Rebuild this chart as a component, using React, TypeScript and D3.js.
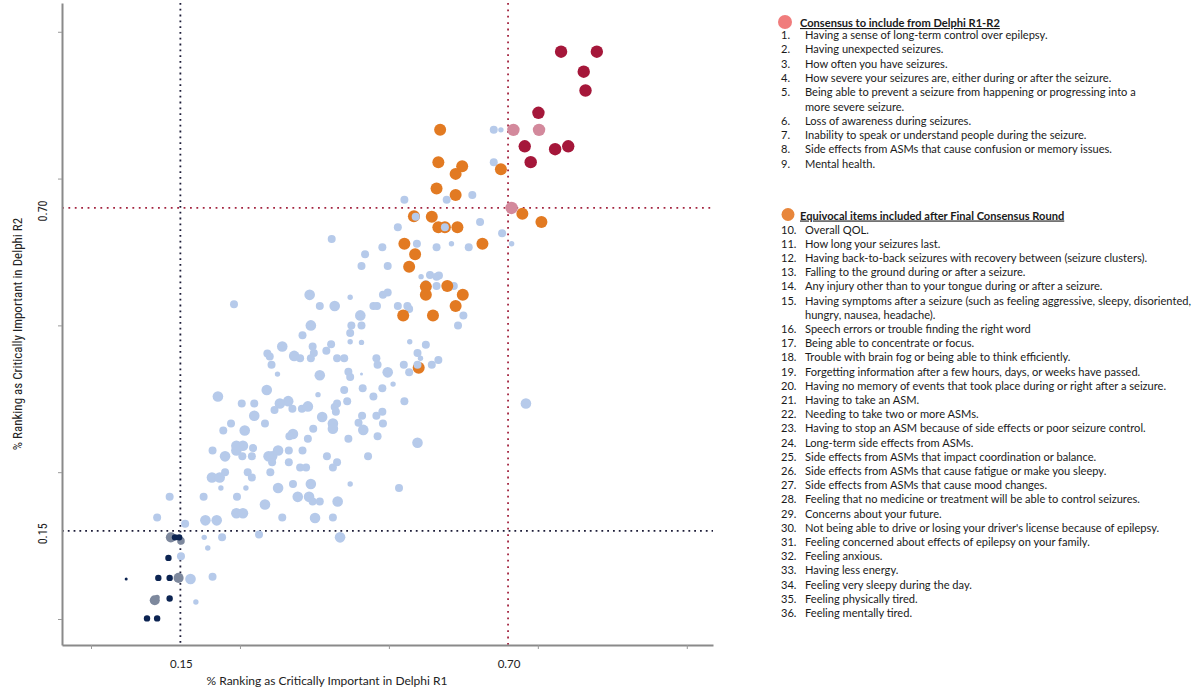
import React, { useEffect, useRef } from "react";
import * as d3 from "d3";

// % ranking as critically important: [R1, R2, sizeCode]
const otherItems: number[][] = [
  [67.6,83.3,2],[68.8,83.3,1],[67.6,77.8,2],[52.6,71.4,2],[59.7,71.4,2],[64.0,72.2,2],[65.3,67.6,2],[69.0,65.7,2],[70.6,63.9,1],[51.5,66.7,2],[54.7,63.9,2],[58.0,63.3,2],[60.5,63.9,1],[63.4,63.3,2],[48.9,63.3,2],[46.0,62.1,2],[40.4,64.7,2],[45.4,60.1,2],[49.8,60.1,2],[55.4,58.3,1],[56.9,58.6,2],[58.0,58.3,2],[58.4,58.5,2],[56.2,57.0,2],[58.0,56.7,2],[60.9,56.7,2],[43.5,54.8,1],[49.0,55.2,2],[49.8,55.6,2],[36.7,55.2,3],[24.0,53.6,2],[38.4,53.3,2],[40.9,53.3,3],[47.4,53.3,2],[48.0,53.3,2],[51.5,53.3,2],[53.1,53.3,2],[53.4,52.8,2],[62.5,51.7,2],[61.6,50.0,2],[45.2,51.7,3],[36.9,50.0,3],[43.7,50.0,2],[45.4,50.0,2],[35.5,48.3,2],[43.5,48.7,2],[43.5,47.2,1],[45.4,47.1,1],[53.5,47.2,1],[56.2,46.7,2],[40.3,46.8,2],[37.2,46.4,2],[37.4,45.3,2],[39.5,45.7,2],[32.1,46.4,3],[29.6,45.2,2],[30.0,44.7,2],[34.1,44.8,3],[35.1,44.4,2],[36.9,44.4,2],[41.3,44.4,2],[42.5,44.4,2],[47.9,44.4,2],[48.1,43.3,2],[54.8,45.3,2],[55.3,44.4,1],[52.5,43.3,2],[53.4,42.0,2],[57.2,43.3,2],[58.3,44.1,2],[49.8,42.0,3],[43.2,42.1,2],[43.5,41.2,2],[45.4,41.7,0],[38.4,41.5,3],[30.3,43.3,2],[31.3,41.7,1],[50.7,40.0,1],[48.9,39.3,2],[45.6,39.3,2],[42.5,39.0,2],[47.4,37.9,2],[38.1,38.2,1],[29.5,39.0,3],[21.3,37.9,3],[43.0,37.1,2],[41.3,36.7,2],[40.9,36.1,2],[41.1,35.3,2],[33.1,37.1,3],[31.7,36.7,3],[33.8,35.8,2],[35.4,35.8,2],[36.4,36.2,3],[52.6,37.1,2],[30.8,35.6,2],[25.3,36.7,2],[27.4,36.7,2],[38.8,34.4,3],[45.5,34.6,2],[47.9,34.6,2],[48.9,35.3,2],[44.9,33.4,2],[45.7,32.2,3],[40.6,33.3,3],[40.6,32.4,3],[49.0,33.3,2],[37.3,32.4,2],[73.0,36.7,3],[33.9,31.5,3],[33.3,31.1,2],[36.4,30.7,2],[43.2,30.7,2],[48.1,31.1,2],[54.8,30.0,3],[27.4,34.6,3],[23.5,33.3,2],[29.2,33.3,2],[22.2,32.1,2],[25.8,32.1,3],[24.4,29.5,3],[25.5,29.5,3],[24.4,28.7,3],[27.2,29.1,2],[20.4,28.7,2],[31.4,28.7,3],[33.2,28.7,2],[35.5,28.7,2],[22.5,27.7,3],[25.4,27.7,2],[27.0,27.7,2],[29.8,27.7,3],[30.4,27.7,3],[30.4,26.7,2],[33.2,26.7,2],[39.6,27.7,2],[46.5,27.7,2],[41.3,26.7,2],[40.6,25.8,2],[35.1,25.8,2],[36.1,25.8,2],[20.3,24.1,3],[21.6,24.1,3],[22.5,25.0,2],[26.3,25.0,2],[27.0,24.1,2],[30.1,25.0,2],[21.8,22.3,1],[26.0,22.3,1],[31.4,22.3,3],[33.9,23.0,2],[36.9,23.0,3],[43.5,23.0,1],[51.7,22.3,2],[13.2,20.8,2],[18.9,20.8,2],[24.5,20.8,2],[34.7,20.8,3],[36.6,20.8,3],[37.2,20.0,2],[38.4,20.0,2],[41.4,20.0,3],[29.2,19.5,3],[11.1,17.3,2],[19.2,16.8,3],[21.1,16.8,3],[24.4,18.0,3],[25.5,18.0,3],[32.1,17.3,2],[37.6,17.2,3],[40.6,17.3,2],[15.8,16.2,2],[28.2,14.4,2],[19.0,13.9,1],[22.0,13.9,2],[41.8,13.9,3],[19.6,12.1,1],[15.1,10.7,2],[16.7,6.8,3],[20.4,7.2,2],[17.6,2.9,1]
];
const otherOnTop: number[][] = [[54.5,68.5,2],[59.4,66.7,2],[54.8,43.3,2]];
const equivocalItems: number[][] = [
  [58.6,83.3],[58.3,77.8],[62.3,77.1],[61.2,75.8],[68.8,76.6],[58.0,73.3],[61.2,72.2],[72.4,69.0],[75.6,67.6],[54.2,68.6],[57.2,68.5],[58.3,66.7],[59.4,66.7],[61.5,66.7],[52.6,63.9],[65.7,63.9],[54.4,62.1],[53.4,60.0],[56.2,56.6],[59.8,56.7],[56.2,55.2],[62.4,55.2],[52.4,51.7],[57.4,51.7],[61.2,53.3],[55.0,42.8]
];
const consensusItems: number[][] = [
  [78.9,96.6],[84.9,96.6],[82.7,93.2],[83.0,90.0],[75.1,86.2],[72.8,80.5],[77.9,80.0],[80.1,80.5],[73.8,77.8]
];
const consensusOverlap: number[][] = [[70.9,83.3],[75.2,83.3],[70.6,70.0]];
const excludedItems: number[][] = [
  [14.1,13.9,2],[14.8,13.9,2],[13.0,10.4,2],[5.9,6.8,0],[11.3,7.0,2],[13.2,7.0,2],[13.2,3.5,2],[9.4,0.1,2],[11.1,0.1,2]
];
const excludedOverlap: number[][] = [[13.4,13.9,3],[15.1,13.3,2],[14.7,7.0,3],[10.7,3.2,3],[11.1,3.7,1]];

const gridTicks = [0, 25, 50, 75, 100];
const thresholds = [15, 70];
const thresholdLabels = ["0.15", "0.70"];

const legend1Title = "Consensus to include from Delphi R1-R2";
const legend1Items = [
  "Having a sense of long-term control over epilepsy.",
  "Having unexpected seizures.",
  "How often you have seizures.",
  "How severe your seizures are, either during or after the seizure.",
  "Being able to prevent a seizure from happening or progressing into a\nmore severe seizure.",
  "Loss of awareness during seizures.",
  "Inability to speak or understand people during the seizure.",
  "Side effects from ASMs that cause confusion or memory issues.",
  "Mental health.",
];
const legend2Title = "Equivocal items included after Final Consensus Round";
const legend2Items = [
  "Overall QOL.",
  "How long your seizures last.",
  "Having back-to-back seizures with recovery between (seizure clusters).",
  "Falling to the ground during or after a seizure.",
  "Any injury other than to your tongue during or after a seizure.",
  "Having symptoms after a seizure (such as feeling aggressive, sleepy, disoriented,\nhungry, nausea, headache).",
  "Speech errors or trouble finding the right word",
  "Being able to concentrate or focus.",
  "Trouble with brain fog or being able to think efficiently.",
  "Forgetting information after a few hours, days, or weeks have passed.",
  "Having no memory of events that took place during or right after a seizure.",
  "Having to take an ASM.",
  "Needing to take two or more ASMs.",
  "Having to stop an ASM because of side effects or poor seizure control.",
  "Long-term side effects from ASMs.",
  "Side effects from ASMs that impact coordination or balance.",
  "Side effects from ASMs that cause fatigue or make you sleepy.",
  "Side effects from ASMs that cause mood changes.",
  "Feeling that no medicine or treatment will be able to control seizures.",
  "Concerns about your future.",
  "Not being able to drive or losing your driver's license because of epilepsy.",
  "Feeling concerned about effects of epilepsy on your family.",
  "Feeling anxious.",
  "Having less energy.",
  "Feeling very sleepy during the day.",
  "Feeling physically tired.",
  "Feeling mentally tired.",
];

const LEGEND_FONT = "Lato, 'Open Sans', sans-serif";
const NARROW_FONT = "'Liberation Sans Narrow', 'Roboto Condensed', 'DejaVu Sans Condensed', sans-serif";

export default function App() {
  const ref = useRef<SVGSVGElement>(null);
  useEffect(() => {
    const svg = d3.select(ref.current!);
    svg.selectAll("*").remove();

    const x = d3.scaleLinear().domain([-4.87, 104.4]).range([62, 713]);
    const y = d3.scaleLinear().domain([-4.43, 104.9]).range([645, 3]);
    const r = d3.scaleOrdinal<number, number>().domain([0, 1, 2, 3]).range([1.5, 2.7, 4.0, 5.3]);

    const plot = svg.append("g");

    // threshold lines
    const black = "#1c1c38";
    const red = "#a3243f";
    const [t15, t70] = thresholds;
    plot.append("line").attr("x1", x(t15)).attr("x2", x(t15)).attr("y1", y.range()[1]).attr("y2", y.range()[0])
      .attr("stroke", black).attr("stroke-width", 1.8).attr("stroke-dasharray", "1.8 4");
    plot.append("line").attr("x1", x.range()[0]).attr("x2", x.range()[1]).attr("y1", y(t15)).attr("y2", y(t15))
      .attr("stroke", black).attr("stroke-width", 1.8).attr("stroke-dasharray", "1.8 4");
    plot.append("line").attr("x1", x(t70)).attr("x2", x(t70)).attr("y1", y.range()[1]).attr("y2", y.range()[0])
      .attr("stroke", red).attr("stroke-width", 1.8).attr("stroke-dasharray", "1.8 4.6");
    plot.append("line").attr("x1", x.range()[0]).attr("x2", x.range()[1]).attr("y1", y(t70)).attr("y2", y(t70))
      .attr("stroke", red).attr("stroke-width", 1.8).attr("stroke-dasharray", "1.8 4.6");

    const drawDots = (data: number[][], fill: string, radius: (d: number[]) => number, opacity = 1) => {
      plot.append("g").selectAll("circle").data(data).join("circle")
        .attr("cx", d => x(d[0])).attr("cy", d => y(d[1])).attr("r", radius)
        .attr("fill", fill).attr("fill-opacity", opacity);
    };

    drawDots(otherItems, "#b6caea", d => r(d[2]));
    drawDots(excludedOverlap, "#7d889d", d => r(d[2]) * 0.95);
    drawDots(excludedItems, "#0c2452", d => (d[2] === 0 ? 1.5 : 3.2));
    drawDots(equivocalItems, "#e27a22", () => 6);
    drawDots(otherOnTop, "#b6caea", () => 4);
    drawDots(consensusItems, "#a5173a", () => 6.2);
    drawDots(consensusOverlap, "#d3899c", () => 6.2);

    // axes
    const axisColor = "#8a8a8a";
    const xAxis = svg.append("g").attr("transform", `translate(0,${y.range()[0]})`)
      .call(d3.axisBottom(x).tickValues(gridTicks).tickFormat(() => "").tickSizeInner(4).tickSizeOuter(0));
    xAxis.select(".domain").attr("stroke", axisColor).attr("stroke-width", 2);
    xAxis.selectAll(".tick line").attr("stroke", "#9a9a9a");
    const yAxis = svg.append("g").attr("transform", `translate(${x.range()[0]},0)`)
      .call(d3.axisLeft(y).tickValues(gridTicks).tickFormat(() => "").tickSizeInner(4).tickSizeOuter(0));
    yAxis.select(".domain").attr("stroke", axisColor).attr("stroke-width", 2);
    yAxis.selectAll(".tick line").attr("stroke", "#9a9a9a");

    // threshold labels
    thresholds.forEach((t, i) => {
      svg.append("text").attr("x", x(t) + 1).attr("y", 668).attr("text-anchor", "middle")
        .attr("font-family", LEGEND_FONT).attr("font-size", 11.5).attr("fill", "#222").text(thresholdLabels[i]);
      svg.append("text").attr("transform", `translate(47,${y(t) + 3}) rotate(-90)`).attr("text-anchor", "middle")
        .attr("font-family", NARROW_FONT).attr("font-size", 12).attr("fill", "#222").text(thresholdLabels[i]);
    });

    svg.append("text").attr("x", 327).attr("y", 685).attr("text-anchor", "middle")
      .attr("font-family", LEGEND_FONT).attr("font-size", 12).attr("fill", "#222")
      .text("% Ranking as Critically Important in Delphi R1");
    svg.append("text").attr("transform", `translate(22,334) rotate(-90)`).attr("text-anchor", "middle")
      .attr("font-family", NARROW_FONT).attr("font-size", 13).attr("fill", "#222")
      .text("% Ranking as Critically Important in Delphi R2");

    // legends
    const drawLegend = (title: string, items: string[], startNum: number, titleY: number, firstY: number, step: number, color: string, cx: number, cr: number) => {
      const g = svg.append("g").attr("font-family", LEGEND_FONT).attr("font-size", 11.1).attr("fill", "#1a1a1a");
      g.append("circle").attr("cx", cx).attr("cy", titleY - 5).attr("r", cr).attr("fill", color);
      g.append("text").attr("x", 800).attr("y", titleY).attr("font-weight", "bold")
        .attr("text-decoration", "underline").text(title);
      let line = 0;
      items.forEach((it, i) => {
        const parts = it.split("\n");
        parts.forEach((p, j) => {
          const yy = firstY + line * step;
          if (j === 0) g.append("text").attr("x", 781).attr("y", yy).text(`${startNum + i}.`);
          g.append("text").attr("x", 805).attr("y", yy).text(p);
          line++;
        });
      });
    };
    drawLegend(legend1Title, legend1Items, 1, 27, 39, 14.3, "#f07c7c", 785, 7);
    drawLegend(legend2Title, legend2Items, 10, 219.5, 233.5, 14.2, "#e8863b", 788, 6.5);
  }, []);
  return (
    <svg ref={ref} width={1200} height={693}
      style={{ position: "absolute", left: 0, top: 0, background: "#fff" }} />
  );
}
